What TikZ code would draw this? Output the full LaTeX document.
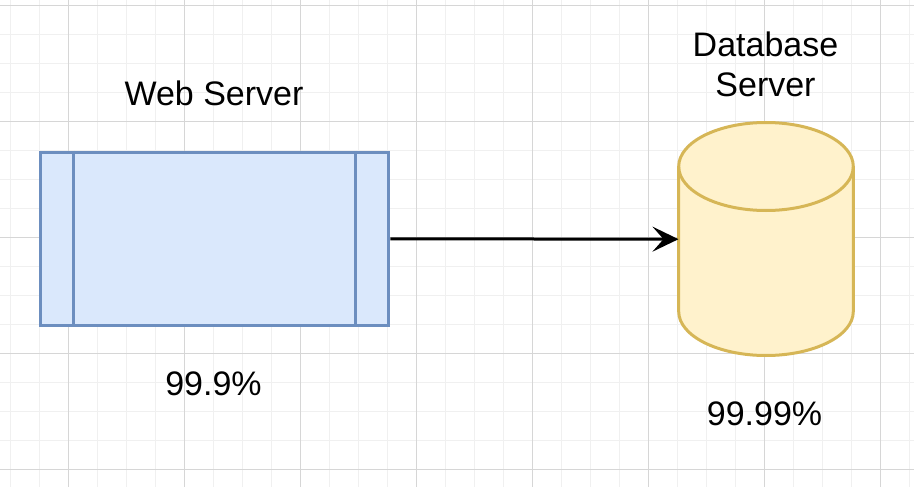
\documentclass[tikz,border=0pt]{standalone}
\usepackage{fontspec}
\setmainfont{Liberation Sans}
\usetikzlibrary{arrows.meta}
\definecolor{gridminor}{HTML}{F0F0F0}
\definecolor{gridmajor}{HTML}{D6D6D6}
\definecolor{webfill}{HTML}{DAE8FC}
\definecolor{webdraw}{HTML}{6C8EBF}
\definecolor{dbfill}{HTML}{FFF2CC}
\definecolor{dbdraw}{HTML}{D6B656}
\tikzset{
  lbl/.style={font=\fontsize{34}{39.3}\selectfont, inner sep=0pt, align=center},
  webbox/.style={draw=webdraw, fill=webfill, line width=3pt, inner sep=0pt},
  conn/.style={line width=3pt, -{Stealth[length=26pt, width=25pt, inset=11pt]}},
}
\begin{document}
\begin{tikzpicture}[x=1pt, y=-1pt]
\useasboundingbox (0,0) rectangle (914,487);
\fill[white] (0,0) rectangle (914,487);
% grid
\foreach \k in {0,...,31} {\draw[gridminor, line width=1pt] ({10.3+29*\k},0) -- ({10.3+29*\k},487);}
\foreach \k in {0,...,16} {\draw[gridminor, line width=1pt] (0,{5.3+29*\k}) -- (914,{5.3+29*\k});}
\foreach \k in {0,...,7} {\draw[gridmajor, line width=1pt] ({68.3+116*\k},0) -- ({68.3+116*\k},487);}
\foreach \k in {0,...,4} {\draw[gridmajor, line width=1pt] (0,{5.3+116*\k}) -- (914,{5.3+116*\k});}
% web server
\node[webbox, minimum width=348.7pt, minimum height=173pt] (web) at (214.4,238.8) {};
\draw[webdraw, line width=3pt] ([xshift=35pt]web.north west) -- ([xshift=35pt]web.south west);
\draw[webdraw, line width=3pt] ([xshift=-34.7pt]web.north east) -- ([xshift=-34.7pt]web.south east);
% database cylinder
\node[inner sep=0pt, minimum width=174.6pt, minimum height=233pt] (db) at (766,239.2) {};
\fill[dbfill] (678.7,166.5) arc[start angle=180, end angle=360, x radius=87.3, y radius=44]
  -- (853.3,311.5) arc[start angle=0, end angle=180, x radius=87.3, y radius=44] -- cycle;
\draw[dbdraw, line width=3pt] (766,166.5) ellipse[x radius=87.3, y radius=44];
\draw[dbdraw, line width=3pt] (678.7,166.5) -- (678.7,311.5)
  arc[start angle=180, end angle=0, x radius=87.3, y radius=44] -- (853.3,166.5);
% connector
\draw[conn] (web.east) -- (db.west);
% labels
\node[lbl, anchor=base] (webl) at (214,106) {Web Server};
\node[lbl, anchor=base] (webp) at (213.5,395) {99.9\%};
\node[lbl, anchor=base] (dbl) at (765.5,96) {Database\\Server};
\node[lbl, anchor=base] (dbp) at (764.5,425) {99.99\%};
\end{tikzpicture}
\end{document}
